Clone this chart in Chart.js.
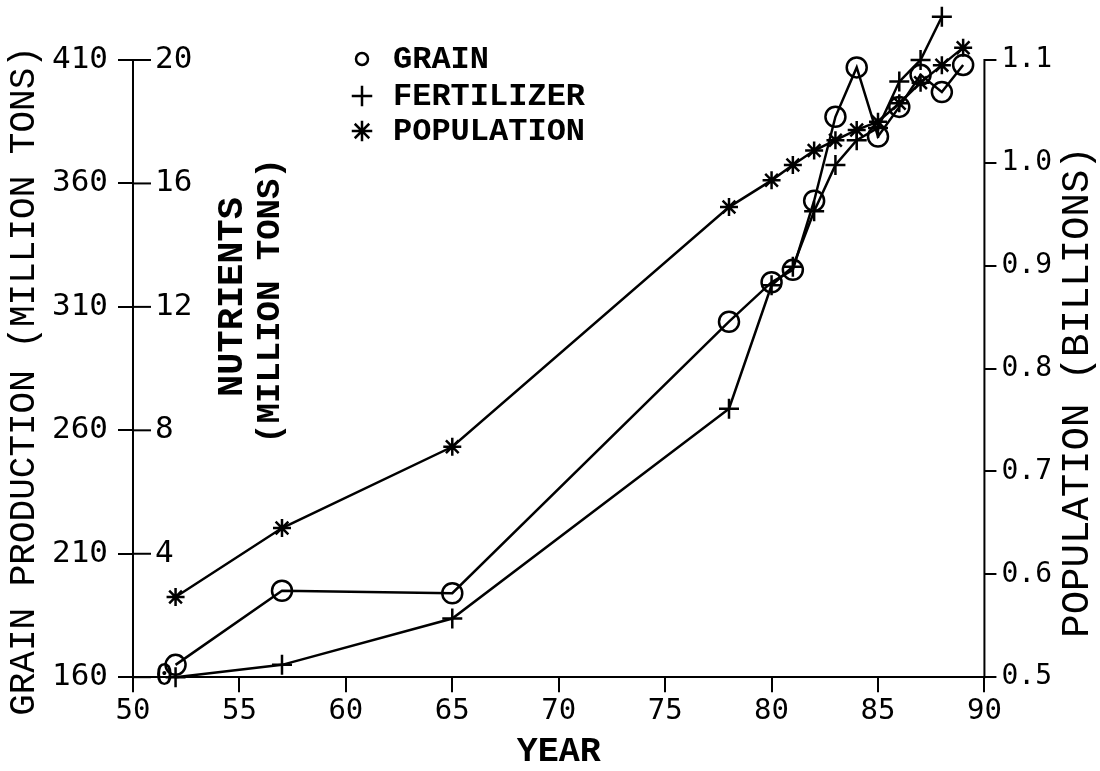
<!DOCTYPE html>
<html>
<head>
<meta charset="utf-8">
<script src="https://cdn.jsdelivr.net/npm/chart.js@4.4.1/dist/chart.umd.min.js"></script>
<style>
html, body { margin: 0; padding: 0; background: #fff; }
#wrap { width: 1100px; height: 771px; }
</style>
</head>
<body>
<div id="wrap"><canvas id="grainChart"></canvas></div>
<script>
// years (19xx) along the x-axis
var years = [52, 57, 65, 78, 80, 81, 82, 83, 84, 85, 86, 87, 88, 89];
var fertYears = [52, 57, 65, 78, 80, 81, 82, 83, 84, 85, 86, 87, 88];
// grain production, million tons
var grain = [165, 195, 194, 304, 320, 325, 353, 387, 407, 379, 391, 404, 397, 408];
// fertilizer nutrients, million tons
var fertilizer = [0, 0.4, 1.9, 8.7, 12.7, 13.3, 15.1, 16.6, 17.4, 17.8, 19.3, 20.0, 21.4];
// population, billions
var population = [0.578, 0.645, 0.724, 0.957, 0.983, 0.998, 1.012, 1.022, 1.032, 1.040, 1.058, 1.078, 1.095, 1.112];

// tick labels
var yearTicks = [50, 55, 60, 65, 70, 75, 80, 85, 90];
var grainTicks = [160, 210, 260, 310, 360, 410];
var nutrientTicks = [0, 4, 8, 12, 16, 20];
var popTicks = [0.5, 0.6, 0.7, 0.8, 0.9, 1.0, 1.1];

// the three vertical scales share one frame: 160 grain = 0 nutrients = 0.5 bn
var yMax = 425;

var mono = '"DejaVu Sans Mono"';
var typer = '"Liberation Mono"';

function pts(xs, ys) {
  return xs.map(function (x, i) { return { x: x, y: ys[i] }; });
}
function fixTicks(list) {
  return function (scale) { scale.ticks = list.map(function (v) { return { value: v }; }); };
}

// extra drawing: axis lines, inner half of left ticks, nutrient labels, titles, legend
var decor = {
  id: 'decor',
  afterDraw: function (chart) {
    var ctx = chart.ctx, a = chart.chartArea, s = chart.scales;
    ctx.save();
    ctx.strokeStyle = '#000';
    ctx.fillStyle = '#000';
    ctx.lineWidth = 2;
    ctx.lineCap = 'square';

    // left and right axis lines stop at the last tick
    ctx.beginPath();
    ctx.moveTo(a.left, a.bottom);
    ctx.lineTo(a.left, s.y.getPixelForValue(410));
    ctx.moveTo(a.right, a.bottom);
    ctx.lineTo(a.right, s.y3.getPixelForValue(1.1));
    ctx.stroke();

    grainTicks.forEach(function (v) {
      var py = s.y.getPixelForValue(v);
      ctx.beginPath();
      ctx.moveTo(a.left, py);
      ctx.lineTo(a.left + 17, py);
      ctx.stroke();
    });

    ctx.font = '31px ' + mono;
    ctx.textAlign = 'left';
    ctx.textBaseline = 'middle';
    nutrientTicks.forEach(function (v) {
      ctx.fillText(String(v), a.left + 22, s.y2.getPixelForValue(v));
    });

    function vtext(txt, x, y, font) {
      ctx.save();
      ctx.translate(x, y);
      ctx.rotate(-Math.PI / 2);
      ctx.font = font;
      ctx.textAlign = 'center';
      ctx.textBaseline = 'middle';
      ctx.fillText(txt, 0, 0);
      ctx.restore();
    }
    vtext('GRAIN PRODUCTION (MILLION TONS)', 24, 381, '36px ' + typer);
    vtext('POPULATION (BILLIONS)', 1078, 392, '39px ' + typer);
    vtext('NUTRIENTS', 233, 297, 'bold 37px ' + typer);
    vtext('(MILLION TONS)', 270, 301, 'bold 34px ' + typer);

    // legend
    var rows = [59, 96, 131];
    ctx.font = 'bold 32px ' + typer;
    ctx.textAlign = 'left';
    chart.data.datasets.forEach(function (ds, i) {
      ctx.save();
      ctx.fillStyle = 'rgba(0,0,0,0)';
      ctx.lineWidth = 2.5;
      Chart.helpers.drawPoint(ctx, {
        pointStyle: ds.pointStyle,
        radius: i === 0 ? 6 : 9,
        borderWidth: 2.5,
        rotation: 0
      }, 362, rows[i]);
      ctx.restore();
      ctx.fillText(ds.label, 393, rows[i] + 1);
    });
    ctx.restore();
  }
};

var common = {
  borderColor: '#000',
  borderWidth: 2.5,
  pointBorderColor: '#000',
  pointBackgroundColor: 'rgba(0,0,0,0)',
  pointBorderWidth: 2.5,
  pointRadius: 10,
  tension: 0,
  fill: false,
  clip: false
};

var ctx = document.getElementById('grainChart');
var myChart = new Chart(ctx, {
  type: 'line',
  data: {
    datasets: [
      Object.assign({}, common, {
        label: 'GRAIN',
        data: pts(years, grain),
        yAxisID: 'y',
        pointStyle: 'circle'
      }),
      Object.assign({}, common, {
        label: 'FERTILIZER',
        data: pts(fertYears, fertilizer),
        yAxisID: 'y2',
        pointStyle: 'cross'
      }),
      Object.assign({}, common, {
        label: 'POPULATION',
        data: pts(years, population),
        yAxisID: 'y3',
        pointStyle: 'star',
        pointRadius: 9
      })
    ]
  },
  options: {
    responsive: true,
    maintainAspectRatio: false,
    animation: false,
    layout: { padding: { left: 42, right: 43, top: 8, bottom: 1 } },
    plugins: {
      legend: { display: false },
      tooltip: { enabled: false }
    },
    scales: {
      x: {
        type: 'linear',
        min: 50,
        max: 90,
        afterBuildTicks: fixTicks(yearTicks),
        grid: { drawOnChartArea: false, color: '#000', lineWidth: 2, tickLength: 15 },
        border: { color: '#000', width: 2 },
        ticks: { color: '#000', font: { family: mono, size: 29 }, padding: 2, maxRotation: 0 },
        title: {
          display: true,
          text: 'YEAR',
          color: '#000',
          font: { family: typer, size: 35, weight: 'bold', lineHeight: 1 },
          padding: { top: 4, bottom: 0 }
        }
      },
      y: {
        position: 'left',
        weight: 1,
        min: 160,
        max: yMax,
        afterBuildTicks: fixTicks(grainTicks),
        grid: { drawOnChartArea: false, color: '#000', lineWidth: 2, tickLength: 15 },
        border: { display: false },
        ticks: { color: '#000', font: { family: mono, size: 31 }, padding: 10 }
      },
      y2: {
        display: false,
        min: 0,
        max: (yMax - 160) / 12.5
      },
      y3: {
        position: 'right',
        min: 0.5,
        max: 0.5 + (yMax - 160) * 0.6 / 250,
        afterBuildTicks: fixTicks(popTicks),
        grid: { drawOnChartArea: false, color: '#000', lineWidth: 2, tickLength: 12 },
        border: { display: false },
        ticks: {
          color: '#000',
          font: { family: mono, size: 28 },
          padding: 5,
          callback: function (v) { return Number(v).toFixed(1); }
        }
      }
    }
  },
  plugins: [decor]
});

// fit the top of the range so that 410 sits at y = 60
var area = myChart.chartArea;
yMax = 160 + (area.bottom - area.top) * 250 / (area.bottom - 60);
myChart.options.scales.y.max = yMax;
myChart.options.scales.y2.max = (yMax - 160) / 12.5;
myChart.options.scales.y3.max = 0.5 + (yMax - 160) * 0.6 / 250;
myChart.update();
</script>
</body>
</html>
